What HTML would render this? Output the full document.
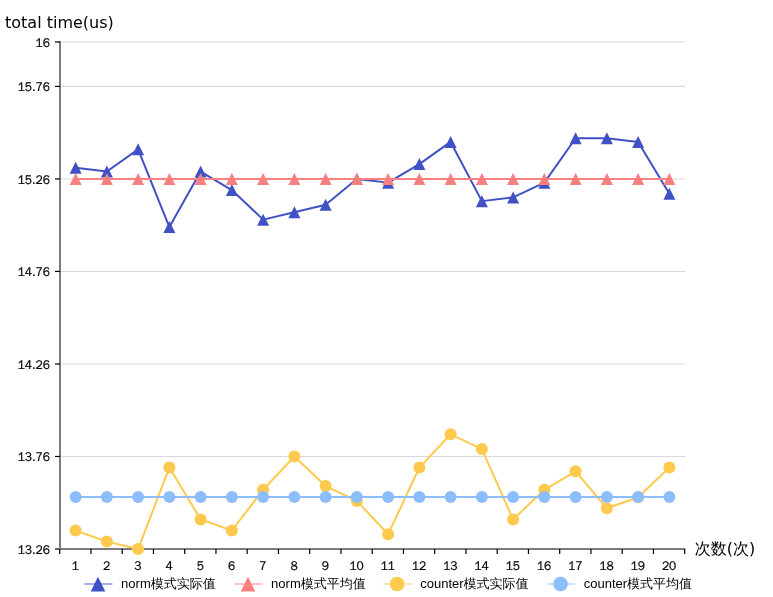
<!DOCTYPE html>
<html lang="zh"><head><meta charset="utf-8"><title>total time(us)</title>
<style>html,body{margin:0;padding:0;background:#fff;}svg{display:block}</style></head>
<body>
<svg width="773" height="597" viewBox="0 0 773 597">
<rect width="773" height="597" fill="#fff"/>
<line x1="60.0" x2="685.0" y1="42.00" y2="42.00" stroke="#d9d9d9" stroke-width="1.1"/>
<line x1="60.0" x2="685.0" y1="86.41" y2="86.41" stroke="#d9d9d9" stroke-width="1.1"/>
<line x1="60.0" x2="685.0" y1="178.93" y2="178.93" stroke="#d9d9d9" stroke-width="1.1"/>
<line x1="60.0" x2="685.0" y1="271.45" y2="271.45" stroke="#d9d9d9" stroke-width="1.1"/>
<line x1="60.0" x2="685.0" y1="363.96" y2="363.96" stroke="#d9d9d9" stroke-width="1.1"/>
<line x1="60.0" x2="685.0" y1="456.48" y2="456.48" stroke="#d9d9d9" stroke-width="1.1"/>
<line x1="60.0" x2="60.0" y1="41.0" y2="550.0" stroke="#7c7c7c" stroke-width="2"/>
<line x1="55.0" x2="60.0" y1="42.00" y2="42.00" stroke="#000" stroke-width="1.2"/>
<text transform="translate(50.0,46.65) scale(1,1.06)" text-anchor="end" font-size="12" fill="#000" stroke="#000" stroke-width="0.18" font-family='"WenQuanYi Zen Hei", "Liberation Sans", sans-serif'>16</text>
<line x1="55.0" x2="60.0" y1="86.41" y2="86.41" stroke="#000" stroke-width="1.2"/>
<text transform="translate(50.0,91.06) scale(1,1.06)" text-anchor="end" font-size="12" fill="#000" stroke="#000" stroke-width="0.18" font-family='"WenQuanYi Zen Hei", "Liberation Sans", sans-serif'>15.76</text>
<line x1="55.0" x2="60.0" y1="178.93" y2="178.93" stroke="#000" stroke-width="1.2"/>
<text transform="translate(50.0,183.58) scale(1,1.06)" text-anchor="end" font-size="12" fill="#000" stroke="#000" stroke-width="0.18" font-family='"WenQuanYi Zen Hei", "Liberation Sans", sans-serif'>15.26</text>
<line x1="55.0" x2="60.0" y1="271.45" y2="271.45" stroke="#000" stroke-width="1.2"/>
<text transform="translate(50.0,276.10) scale(1,1.06)" text-anchor="end" font-size="12" fill="#000" stroke="#000" stroke-width="0.18" font-family='"WenQuanYi Zen Hei", "Liberation Sans", sans-serif'>14.76</text>
<line x1="55.0" x2="60.0" y1="363.96" y2="363.96" stroke="#000" stroke-width="1.2"/>
<text transform="translate(50.0,368.61) scale(1,1.06)" text-anchor="end" font-size="12" fill="#000" stroke="#000" stroke-width="0.18" font-family='"WenQuanYi Zen Hei", "Liberation Sans", sans-serif'>14.26</text>
<line x1="55.0" x2="60.0" y1="456.48" y2="456.48" stroke="#000" stroke-width="1.2"/>
<text transform="translate(50.0,461.13) scale(1,1.06)" text-anchor="end" font-size="12" fill="#000" stroke="#000" stroke-width="0.18" font-family='"WenQuanYi Zen Hei", "Liberation Sans", sans-serif'>13.76</text>
<line x1="55.0" x2="60.0" y1="549.00" y2="549.00" stroke="#000" stroke-width="1.2"/>
<text transform="translate(50.0,553.65) scale(1,1.06)" text-anchor="end" font-size="12" fill="#000" stroke="#000" stroke-width="0.18" font-family='"WenQuanYi Zen Hei", "Liberation Sans", sans-serif'>13.26</text>
<line x1="59.0" x2="685.2" y1="549.0" y2="549.0" stroke="#7c7c7c" stroke-width="2"/>
<line x1="59.70" x2="59.70" y1="549.0" y2="554.0" stroke="#000" stroke-width="1.2"/>
<line x1="90.95" x2="90.95" y1="549.0" y2="554.0" stroke="#000" stroke-width="1.2"/>
<line x1="122.20" x2="122.20" y1="549.0" y2="554.0" stroke="#000" stroke-width="1.2"/>
<line x1="153.45" x2="153.45" y1="549.0" y2="554.0" stroke="#000" stroke-width="1.2"/>
<line x1="184.70" x2="184.70" y1="549.0" y2="554.0" stroke="#000" stroke-width="1.2"/>
<line x1="215.95" x2="215.95" y1="549.0" y2="554.0" stroke="#000" stroke-width="1.2"/>
<line x1="247.20" x2="247.20" y1="549.0" y2="554.0" stroke="#000" stroke-width="1.2"/>
<line x1="278.45" x2="278.45" y1="549.0" y2="554.0" stroke="#000" stroke-width="1.2"/>
<line x1="309.70" x2="309.70" y1="549.0" y2="554.0" stroke="#000" stroke-width="1.2"/>
<line x1="340.95" x2="340.95" y1="549.0" y2="554.0" stroke="#000" stroke-width="1.2"/>
<line x1="372.20" x2="372.20" y1="549.0" y2="554.0" stroke="#000" stroke-width="1.2"/>
<line x1="403.45" x2="403.45" y1="549.0" y2="554.0" stroke="#000" stroke-width="1.2"/>
<line x1="434.70" x2="434.70" y1="549.0" y2="554.0" stroke="#000" stroke-width="1.2"/>
<line x1="465.95" x2="465.95" y1="549.0" y2="554.0" stroke="#000" stroke-width="1.2"/>
<line x1="497.20" x2="497.20" y1="549.0" y2="554.0" stroke="#000" stroke-width="1.2"/>
<line x1="528.45" x2="528.45" y1="549.0" y2="554.0" stroke="#000" stroke-width="1.2"/>
<line x1="559.70" x2="559.70" y1="549.0" y2="554.0" stroke="#000" stroke-width="1.2"/>
<line x1="590.95" x2="590.95" y1="549.0" y2="554.0" stroke="#000" stroke-width="1.2"/>
<line x1="622.20" x2="622.20" y1="549.0" y2="554.0" stroke="#000" stroke-width="1.2"/>
<line x1="653.45" x2="653.45" y1="549.0" y2="554.0" stroke="#000" stroke-width="1.2"/>
<line x1="684.70" x2="684.70" y1="549.0" y2="554.0" stroke="#000" stroke-width="1.2"/>
<text transform="translate(75.33,569.5) scale(1,1.06)" text-anchor="middle" font-size="12" fill="#000" stroke="#000" stroke-width="0.18" font-family='"WenQuanYi Zen Hei", "Liberation Sans", sans-serif'>1</text>
<text transform="translate(106.58,569.5) scale(1,1.06)" text-anchor="middle" font-size="12" fill="#000" stroke="#000" stroke-width="0.18" font-family='"WenQuanYi Zen Hei", "Liberation Sans", sans-serif'>2</text>
<text transform="translate(137.82,569.5) scale(1,1.06)" text-anchor="middle" font-size="12" fill="#000" stroke="#000" stroke-width="0.18" font-family='"WenQuanYi Zen Hei", "Liberation Sans", sans-serif'>3</text>
<text transform="translate(169.07,569.5) scale(1,1.06)" text-anchor="middle" font-size="12" fill="#000" stroke="#000" stroke-width="0.18" font-family='"WenQuanYi Zen Hei", "Liberation Sans", sans-serif'>4</text>
<text transform="translate(200.32,569.5) scale(1,1.06)" text-anchor="middle" font-size="12" fill="#000" stroke="#000" stroke-width="0.18" font-family='"WenQuanYi Zen Hei", "Liberation Sans", sans-serif'>5</text>
<text transform="translate(231.57,569.5) scale(1,1.06)" text-anchor="middle" font-size="12" fill="#000" stroke="#000" stroke-width="0.18" font-family='"WenQuanYi Zen Hei", "Liberation Sans", sans-serif'>6</text>
<text transform="translate(262.82,569.5) scale(1,1.06)" text-anchor="middle" font-size="12" fill="#000" stroke="#000" stroke-width="0.18" font-family='"WenQuanYi Zen Hei", "Liberation Sans", sans-serif'>7</text>
<text transform="translate(294.07,569.5) scale(1,1.06)" text-anchor="middle" font-size="12" fill="#000" stroke="#000" stroke-width="0.18" font-family='"WenQuanYi Zen Hei", "Liberation Sans", sans-serif'>8</text>
<text transform="translate(325.32,569.5) scale(1,1.06)" text-anchor="middle" font-size="12" fill="#000" stroke="#000" stroke-width="0.18" font-family='"WenQuanYi Zen Hei", "Liberation Sans", sans-serif'>9</text>
<text transform="translate(356.57,569.5) scale(1,1.06)" text-anchor="middle" font-size="12" fill="#000" stroke="#000" stroke-width="0.18" font-family='"WenQuanYi Zen Hei", "Liberation Sans", sans-serif'>10</text>
<text transform="translate(387.82,569.5) scale(1,1.06)" text-anchor="middle" font-size="12" fill="#000" stroke="#000" stroke-width="0.18" font-family='"WenQuanYi Zen Hei", "Liberation Sans", sans-serif'>11</text>
<text transform="translate(419.07,569.5) scale(1,1.06)" text-anchor="middle" font-size="12" fill="#000" stroke="#000" stroke-width="0.18" font-family='"WenQuanYi Zen Hei", "Liberation Sans", sans-serif'>12</text>
<text transform="translate(450.32,569.5) scale(1,1.06)" text-anchor="middle" font-size="12" fill="#000" stroke="#000" stroke-width="0.18" font-family='"WenQuanYi Zen Hei", "Liberation Sans", sans-serif'>13</text>
<text transform="translate(481.57,569.5) scale(1,1.06)" text-anchor="middle" font-size="12" fill="#000" stroke="#000" stroke-width="0.18" font-family='"WenQuanYi Zen Hei", "Liberation Sans", sans-serif'>14</text>
<text transform="translate(512.83,569.5) scale(1,1.06)" text-anchor="middle" font-size="12" fill="#000" stroke="#000" stroke-width="0.18" font-family='"WenQuanYi Zen Hei", "Liberation Sans", sans-serif'>15</text>
<text transform="translate(544.08,569.5) scale(1,1.06)" text-anchor="middle" font-size="12" fill="#000" stroke="#000" stroke-width="0.18" font-family='"WenQuanYi Zen Hei", "Liberation Sans", sans-serif'>16</text>
<text transform="translate(575.33,569.5) scale(1,1.06)" text-anchor="middle" font-size="12" fill="#000" stroke="#000" stroke-width="0.18" font-family='"WenQuanYi Zen Hei", "Liberation Sans", sans-serif'>17</text>
<text transform="translate(606.58,569.5) scale(1,1.06)" text-anchor="middle" font-size="12" fill="#000" stroke="#000" stroke-width="0.18" font-family='"WenQuanYi Zen Hei", "Liberation Sans", sans-serif'>18</text>
<text transform="translate(637.83,569.5) scale(1,1.06)" text-anchor="middle" font-size="12" fill="#000" stroke="#000" stroke-width="0.18" font-family='"WenQuanYi Zen Hei", "Liberation Sans", sans-serif'>19</text>
<text transform="translate(669.08,569.5) scale(1,1.06)" text-anchor="middle" font-size="12" fill="#000" stroke="#000" stroke-width="0.18" font-family='"WenQuanYi Zen Hei", "Liberation Sans", sans-serif'>20</text>
<text x="5" y="27.7" font-size="16" fill="#000" font-family='"DejaVu Sans", "WenQuanYi Zen Hei", "Noto Sans CJK SC", sans-serif'>total time(us)</text>
<text x="694.7" y="554" font-size="16" fill="#000" font-family='"DejaVu Sans", "WenQuanYi Zen Hei", "Noto Sans CJK SC", sans-serif'>次数(次)</text>
<polyline points="75.62,167.82 106.88,171.53 138.12,149.32 169.38,227.04 200.62,171.53 231.88,190.03 263.12,219.64 294.38,212.23 325.62,204.83 356.88,178.93 388.12,182.63 419.38,164.12 450.62,141.92 481.88,201.13 513.12,197.43 544.38,182.63 575.62,138.22 606.88,138.22 638.12,141.92 669.38,193.73" fill="none" stroke="#3f51c5" stroke-width="2" stroke-linejoin="bevel"/>
<path d="M75.62 161.82L81.62 173.82L69.62 173.82Z" fill="#3f51c5"/>
<path d="M106.88 165.53L112.88 177.53L100.88 177.53Z" fill="#3f51c5"/>
<path d="M138.12 143.32L144.12 155.32L132.12 155.32Z" fill="#3f51c5"/>
<path d="M169.38 221.04L175.38 233.04L163.38 233.04Z" fill="#3f51c5"/>
<path d="M200.62 165.53L206.62 177.53L194.62 177.53Z" fill="#3f51c5"/>
<path d="M231.88 184.03L237.88 196.03L225.88 196.03Z" fill="#3f51c5"/>
<path d="M263.12 213.64L269.12 225.64L257.12 225.64Z" fill="#3f51c5"/>
<path d="M294.38 206.23L300.38 218.23L288.38 218.23Z" fill="#3f51c5"/>
<path d="M325.62 198.83L331.62 210.83L319.62 210.83Z" fill="#3f51c5"/>
<path d="M356.88 172.93L362.88 184.93L350.88 184.93Z" fill="#3f51c5"/>
<path d="M388.12 176.63L394.12 188.63L382.12 188.63Z" fill="#3f51c5"/>
<path d="M419.38 158.12L425.38 170.12L413.38 170.12Z" fill="#3f51c5"/>
<path d="M450.62 135.92L456.62 147.92L444.62 147.92Z" fill="#3f51c5"/>
<path d="M481.88 195.13L487.88 207.13L475.88 207.13Z" fill="#3f51c5"/>
<path d="M513.12 191.43L519.12 203.43L507.12 203.43Z" fill="#3f51c5"/>
<path d="M544.38 176.63L550.38 188.63L538.38 188.63Z" fill="#3f51c5"/>
<path d="M575.62 132.22L581.62 144.22L569.62 144.22Z" fill="#3f51c5"/>
<path d="M606.88 132.22L612.88 144.22L600.88 144.22Z" fill="#3f51c5"/>
<path d="M638.12 135.92L644.12 147.92L632.12 147.92Z" fill="#3f51c5"/>
<path d="M669.38 187.73L675.38 199.73L663.38 199.73Z" fill="#3f51c5"/>
<polyline points="75.62,179.00 106.88,179.00 138.12,179.00 169.38,179.00 200.62,179.00 231.88,179.00 263.12,179.00 294.38,179.00 325.62,179.00 356.88,179.00 388.12,179.00 419.38,179.00 450.62,179.00 481.88,179.00 513.12,179.00 544.38,179.00 575.62,179.00 606.88,179.00 638.12,179.00 669.38,179.00" fill="none" stroke="#fa8080" stroke-width="2" stroke-linejoin="bevel"/>
<path d="M75.62 173.00L81.62 185.00L69.62 185.00Z" fill="#fa8080"/>
<path d="M106.88 173.00L112.88 185.00L100.88 185.00Z" fill="#fa8080"/>
<path d="M138.12 173.00L144.12 185.00L132.12 185.00Z" fill="#fa8080"/>
<path d="M169.38 173.00L175.38 185.00L163.38 185.00Z" fill="#fa8080"/>
<path d="M200.62 173.00L206.62 185.00L194.62 185.00Z" fill="#fa8080"/>
<path d="M231.88 173.00L237.88 185.00L225.88 185.00Z" fill="#fa8080"/>
<path d="M263.12 173.00L269.12 185.00L257.12 185.00Z" fill="#fa8080"/>
<path d="M294.38 173.00L300.38 185.00L288.38 185.00Z" fill="#fa8080"/>
<path d="M325.62 173.00L331.62 185.00L319.62 185.00Z" fill="#fa8080"/>
<path d="M356.88 173.00L362.88 185.00L350.88 185.00Z" fill="#fa8080"/>
<path d="M388.12 173.00L394.12 185.00L382.12 185.00Z" fill="#fa8080"/>
<path d="M419.38 173.00L425.38 185.00L413.38 185.00Z" fill="#fa8080"/>
<path d="M450.62 173.00L456.62 185.00L444.62 185.00Z" fill="#fa8080"/>
<path d="M481.88 173.00L487.88 185.00L475.88 185.00Z" fill="#fa8080"/>
<path d="M513.12 173.00L519.12 185.00L507.12 185.00Z" fill="#fa8080"/>
<path d="M544.38 173.00L550.38 185.00L538.38 185.00Z" fill="#fa8080"/>
<path d="M575.62 173.00L581.62 185.00L569.62 185.00Z" fill="#fa8080"/>
<path d="M606.88 173.00L612.88 185.00L600.88 185.00Z" fill="#fa8080"/>
<path d="M638.12 173.00L644.12 185.00L632.12 185.00Z" fill="#fa8080"/>
<path d="M669.38 173.00L675.38 185.00L663.38 185.00Z" fill="#fa8080"/>
<polyline points="75.62,530.50 106.88,541.60 138.12,549.00 169.38,467.58 200.62,519.39 231.88,530.50 263.12,489.79 294.38,456.48 325.62,486.09 356.88,500.89 388.12,534.20 419.38,467.58 450.62,434.28 481.88,449.08 513.12,519.39 544.38,489.79 575.62,471.28 606.88,508.29 638.12,497.19 669.38,467.58" fill="none" stroke="#ffc94d" stroke-width="2" stroke-linejoin="bevel"/>
<circle cx="75.62" cy="530.50" r="6" fill="#ffc94d"/>
<circle cx="106.88" cy="541.60" r="6" fill="#ffc94d"/>
<circle cx="138.12" cy="549.00" r="6" fill="#ffc94d"/>
<circle cx="169.38" cy="467.58" r="6" fill="#ffc94d"/>
<circle cx="200.62" cy="519.39" r="6" fill="#ffc94d"/>
<circle cx="231.88" cy="530.50" r="6" fill="#ffc94d"/>
<circle cx="263.12" cy="489.79" r="6" fill="#ffc94d"/>
<circle cx="294.38" cy="456.48" r="6" fill="#ffc94d"/>
<circle cx="325.62" cy="486.09" r="6" fill="#ffc94d"/>
<circle cx="356.88" cy="500.89" r="6" fill="#ffc94d"/>
<circle cx="388.12" cy="534.20" r="6" fill="#ffc94d"/>
<circle cx="419.38" cy="467.58" r="6" fill="#ffc94d"/>
<circle cx="450.62" cy="434.28" r="6" fill="#ffc94d"/>
<circle cx="481.88" cy="449.08" r="6" fill="#ffc94d"/>
<circle cx="513.12" cy="519.39" r="6" fill="#ffc94d"/>
<circle cx="544.38" cy="489.79" r="6" fill="#ffc94d"/>
<circle cx="575.62" cy="471.28" r="6" fill="#ffc94d"/>
<circle cx="606.88" cy="508.29" r="6" fill="#ffc94d"/>
<circle cx="638.12" cy="497.19" r="6" fill="#ffc94d"/>
<circle cx="669.38" cy="467.58" r="6" fill="#ffc94d"/>
<polyline points="75.62,496.90 106.88,496.90 138.12,496.90 169.38,496.90 200.62,496.90 231.88,496.90 263.12,496.90 294.38,496.90 325.62,496.90 356.88,496.90 388.12,496.90 419.38,496.90 450.62,496.90 481.88,496.90 513.12,496.90 544.38,496.90 575.62,496.90 606.88,496.90 638.12,496.90 669.38,496.90" fill="none" stroke="#8cbeff" stroke-width="2" stroke-linejoin="bevel"/>
<circle cx="75.62" cy="496.90" r="6" fill="#8cbeff"/>
<circle cx="106.88" cy="496.90" r="6" fill="#8cbeff"/>
<circle cx="138.12" cy="496.90" r="6" fill="#8cbeff"/>
<circle cx="169.38" cy="496.90" r="6" fill="#8cbeff"/>
<circle cx="200.62" cy="496.90" r="6" fill="#8cbeff"/>
<circle cx="231.88" cy="496.90" r="6" fill="#8cbeff"/>
<circle cx="263.12" cy="496.90" r="6" fill="#8cbeff"/>
<circle cx="294.38" cy="496.90" r="6" fill="#8cbeff"/>
<circle cx="325.62" cy="496.90" r="6" fill="#8cbeff"/>
<circle cx="356.88" cy="496.90" r="6" fill="#8cbeff"/>
<circle cx="388.12" cy="496.90" r="6" fill="#8cbeff"/>
<circle cx="419.38" cy="496.90" r="6" fill="#8cbeff"/>
<circle cx="450.62" cy="496.90" r="6" fill="#8cbeff"/>
<circle cx="481.88" cy="496.90" r="6" fill="#8cbeff"/>
<circle cx="513.12" cy="496.90" r="6" fill="#8cbeff"/>
<circle cx="544.38" cy="496.90" r="6" fill="#8cbeff"/>
<circle cx="575.62" cy="496.90" r="6" fill="#8cbeff"/>
<circle cx="606.88" cy="496.90" r="6" fill="#8cbeff"/>
<circle cx="638.12" cy="496.90" r="6" fill="#8cbeff"/>
<circle cx="669.38" cy="496.90" r="6" fill="#8cbeff"/>
<line x1="84.4" x2="112.4" y1="584.0" y2="584.0" stroke="#3f51c5" stroke-opacity="0.62" stroke-width="1.5"/>
<path d="M98.0 576.8L105.3 591.6L90.7 591.6Z" fill="#3f51c5"/>
<text x="121.10000000000001" y="587.9" font-size="13" fill="#000" font-family='"Liberation Sans", "WenQuanYi Zen Hei", "Noto Sans CJK SC", sans-serif'>norm模式实际值</text>
<line x1="234.4" x2="262.4" y1="584.0" y2="584.0" stroke="#fa8080" stroke-opacity="0.62" stroke-width="1.5"/>
<path d="M248.0 576.8L255.3 591.6L240.7 591.6Z" fill="#fa8080"/>
<text x="271.1" y="587.9" font-size="13" fill="#000" font-family='"Liberation Sans", "WenQuanYi Zen Hei", "Noto Sans CJK SC", sans-serif'>norm模式平均值</text>
<line x1="383.5" x2="411.5" y1="584.0" y2="584.0" stroke="#ffc94d" stroke-opacity="0.62" stroke-width="1.5"/>
<circle cx="397.1" cy="584.0" r="7.3" fill="#ffc94d"/>
<text x="420.2" y="587.9" font-size="13" fill="#000" font-family='"Liberation Sans", "WenQuanYi Zen Hei", "Noto Sans CJK SC", sans-serif'>counter模式实际值</text>
<line x1="547" x2="575" y1="584.0" y2="584.0" stroke="#8cbeff" stroke-opacity="0.62" stroke-width="1.5"/>
<circle cx="560.6" cy="584.0" r="7.3" fill="#8cbeff"/>
<text x="583.7" y="587.9" font-size="13" fill="#000" font-family='"Liberation Sans", "WenQuanYi Zen Hei", "Noto Sans CJK SC", sans-serif'>counter模式平均值</text>
</svg>
</body></html>
